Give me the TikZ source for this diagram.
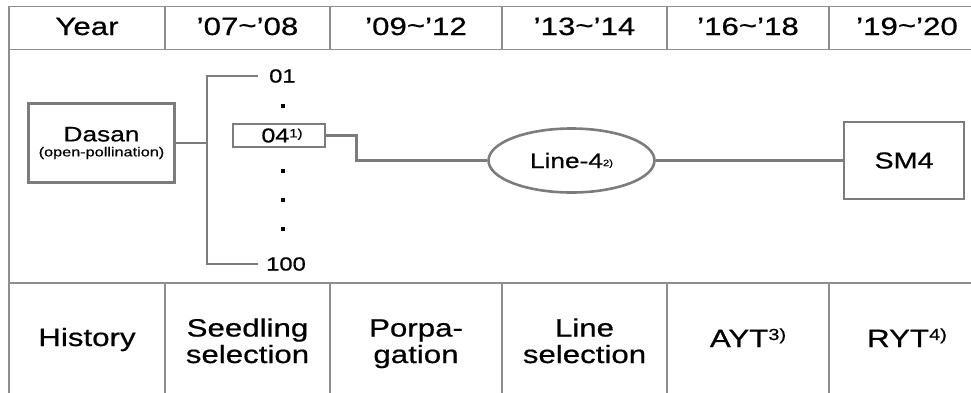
\documentclass[tikz,border=0pt]{standalone}
\usepackage{fontspec}
\setmainfont{Liberation Sans}[FakeStretch=1.25,FakeBold=0.6]
\usetikzlibrary{shapes.geometric}

% raised footnote marker: #1 raise, #2 size, #3 text
\newcommand\supnote[3]{\raisebox{#1}{\fontsize{#2}{#2}\selectfont #3}}

\definecolor{gridgray}{HTML}{8E8E8E}
\definecolor{linkgray}{HTML}{7C7C7C}

\begin{document}
\begin{tikzpicture}[x=1pt,y=-1pt,
  grid/.style={draw=gridgray,line width=1.3pt},
  link/.style={draw=linkgray,line width=2.8pt},
  head/.style={anchor=base,inner sep=0pt,font=\fontsize{25}{27}\selectfont},
  stage/.style={anchor=base,inner sep=0pt,align=center,font=\fontsize{25}{26.5}\selectfont},
  boxnode/.style={draw=linkgray,line width=2.8pt,inner sep=0pt,align=center},
  label/.style={anchor=west,inner sep=0pt,font=\fontsize{19}{19}\selectfont},
  dot/.style={fill=black,minimum size=3.2pt,inner sep=0pt}]
\useasboundingbox (0,0) rectangle (971,392);

% table frame
\draw[grid] (990,6.5) -- (9,6.5) -- (9,400);
\draw[grid] (9,49.5) -- (990,49.5);
\draw[grid] (9,283) -- (990,283);
\foreach \x in {165,330,502,667,829}{
  \draw[grid] (\x,6.5) -- (\x,49.5);
  \draw[grid] (\x,283) -- (\x,400);
}

% header row
\node[head] (hy) at (87,35) {Year};
\node[head] (h1) at (247.5,35) {’07\raisebox{1pt}{\char`\~}’08};
\node[head] (h2) at (416,35) {’09\raisebox{1pt}{\char`\~}’12};
\node[head] (h3) at (584.5,35) {’13\raisebox{1pt}{\char`\~}’14};
\node[head] (h4) at (748,35) {’16\raisebox{1pt}{\char`\~}’18};
\node[head] (h5) at (907,35) {’19\raisebox{1pt}{\char`\~}’20};

% stage row
\node[stage] (s0) at (87,346) {History};
\node[stage] (s1) at (247.5,363) {Seedling\\selection};
\node[stage] (s2) at (416,363) {Porpa-\\gation};
\node[stage] (s3) at (584.5,363) {Line\\selection};
\node[stage] (s4) at (748,347) {AYT\supnote{7pt}{16}{3)}};
\node[stage] (s5) at (907,347) {RYT\supnote{7pt}{16}{4)}};

% pedigree
\node[boxnode,minimum width=146pt,minimum height=79pt] (dasan) at (101.5,143)
  {{\fontsize{21}{21}\selectfont Dasan}\\[3pt]{\fontsize{13}{13}\selectfont (open-pollination)}};

\coordinate (bt) at (207,76);
\coordinate (bb) at (207,264);
\coordinate (e01) at (258,76);
\coordinate (e100) at (258,264);
\node[label] (n01) at (269,76) {01};
\node[label] (n100) at (266,264) {100};
\draw[link] (e01) -- (bt) -- (bb) -- (e100);
\draw[link] (dasan.east) -- (dasan.east -| bt);

\node[dot] (d1) at (283,106) {};
\node[dot] (d2) at (283,171) {};
\node[dot] (d3) at (283,200) {};
\node[dot] (d4) at (283,229) {};

\node[boxnode,line width=2.4pt,minimum width=92pt,minimum height=23pt,
  font=\fontsize{20}{20}\selectfont] (n04) at (279,135.5)
  {\hspace*{6pt}04\supnote{5pt}{12}{1)}};

\node[ellipse,draw=linkgray,line width=2.6pt,minimum width=166pt,minimum height=64pt,
  inner sep=0pt,font=\fontsize{21}{21}\selectfont] (line4) at (571.5,160.5)
  {Line-4\supnote{2pt}{9}{2)}};

\node[boxnode,minimum width=120pt,minimum height=77pt,
  font=\fontsize{23}{23}\selectfont] (sm4) at (904,160.5) {SM4};

\draw[link] (n04.east) -- ++(30,0) |- (line4.west);
\draw[link] (line4.east) -- (sm4.west);
\end{tikzpicture}
\end{document}
